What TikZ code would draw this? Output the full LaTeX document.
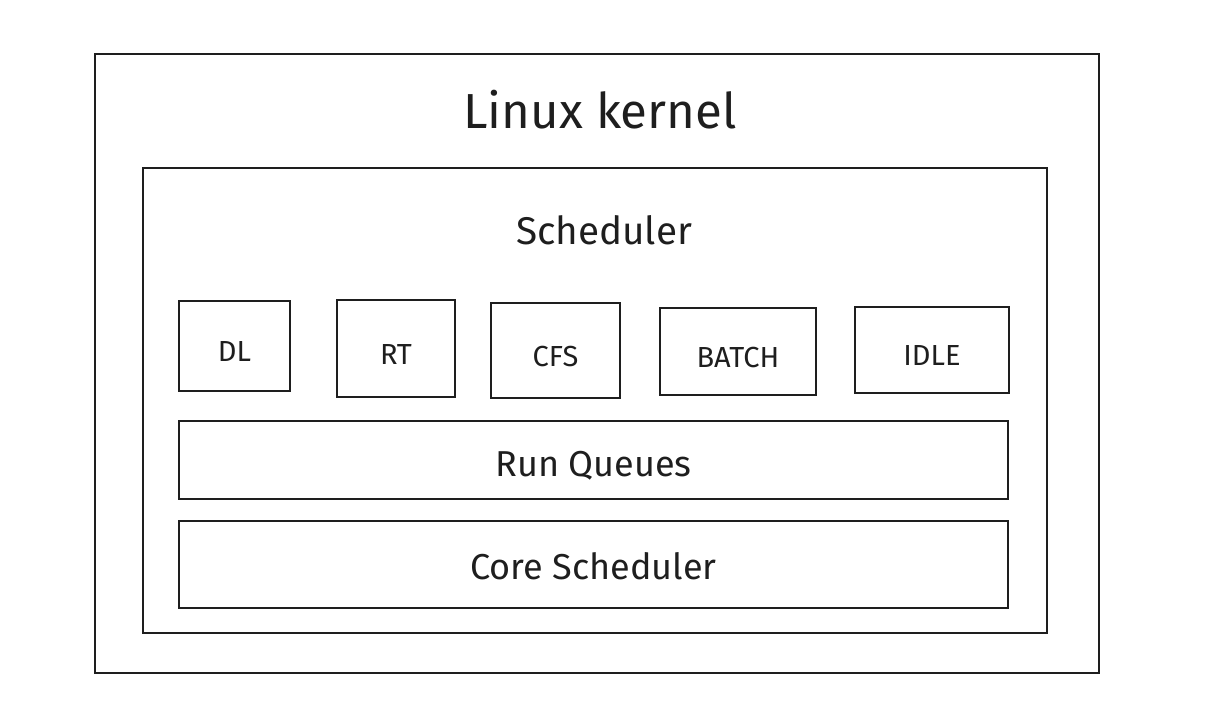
\documentclass[tikz,border=0pt]{standalone}
\usepackage{fontspec}
\setmainfont{Fira Sans}
\usepackage{tikz}
\usetikzlibrary{positioning}
\definecolor{inkline}{HTML}{1E1E1E}

\begin{document}
\begin{tikzpicture}[
 x=0.02cm,y=-0.02cm,
 frame/.style={draw=inkline,line width=1.1pt,inner sep=0pt,outer sep=0pt},
 classbox/.style={frame,font=\fontsize{16.5}{18}\selectfont,text=inkline,text height=18pt,text depth=0pt},
 layerbox/.style={frame,minimum width=16.58cm,font=\fontsize{20.5}{24}\selectfont,text=inkline,text depth=0pt},
 title/.style={font=\fontsize{#1}{#1}\selectfont,text=inkline}]
\useasboundingbox (0,0) rectangle (1212,722);
% outer and inner frames
\node[frame,minimum width=20.08cm,minimum height=12.38cm] (kernel) at (597,363.5) {};
\node[frame,minimum width=18.08cm,minimum height=9.3cm] (sched) at (595,400.5) {};
\node[title=28] (kerneltitle) at (600,110) {Linux kernel};
\node[title=22] (schedtitle) at (604,230) {Scheduler};
% scheduling classes
\node[classbox,minimum width=2.22cm,minimum height=1.8cm] (dl) at (234.5,346) {DL};
\node[classbox,minimum width=2.36cm,minimum height=1.94cm] (rt) at (396,348.5) {RT};
\node[classbox,minimum width=2.58cm,minimum height=1.9cm] (cfs) at (555.5,350.5) {CFS};
\node[classbox,minimum width=3.12cm,minimum height=1.74cm] (batch) at (738,351.5) {BATCH};
\node[classbox,minimum width=3.08cm,minimum height=1.72cm] (idle) at (932,350) {IDLE};
% lower layers
\node[layerbox,minimum height=1.56cm,text height=19pt] (runq) at (593.5,460) {Run Queues};
\node[layerbox,minimum height=1.74cm,text height=17.5pt] (core) at (593.5,564.5) {Core Scheduler};
\end{tikzpicture}
\end{document}
